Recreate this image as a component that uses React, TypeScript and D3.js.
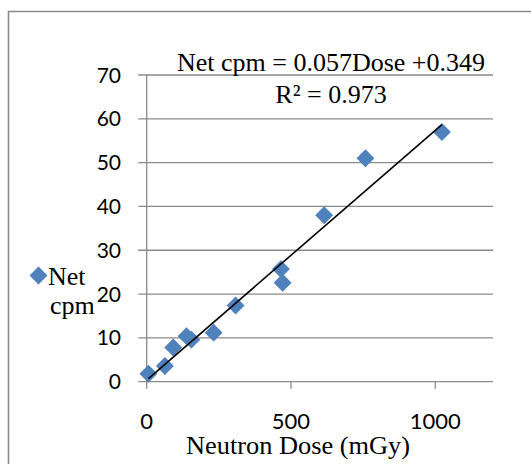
import React from 'react';
import * as d3 from 'd3';

// neutron dose (mGy) vs net counts per minute
const doses = [6, 63, 92, 138, 155, 232, 308, 465, 471, 615, 758, 1023];
const netCpm = [1.8, 3.6, 7.8, 10.4, 9.6, 11.2, 17.4, 25.7, 22.6, 38, 51, 57];

const yTicks = [0, 10, 20, 30, 40, 50, 60, 70];
const xTicks = [0, 500, 1000];

const slope = 0.057;
const intercept = 0.349;
const eqLabel = 'Net cpm = 0.057Dose +0.349';
const r2Label = 'R² = 0.973';
const xTitle = 'Neutron Dose (mGy)';
const seriesName = ['Net', 'cpm'];

const W = 531, H = 464;
const plot = { left: 146.7, right: 493, top: 75, bottom: 381.7 };
const gridColor = '#8a8a8a';
const blue = '#4F81BD';
const serif = '"Liberation Serif", "Times New Roman", serif';
const sans = 'Lato, "Liberation Sans", sans-serif';

const App = () => {
    const x = d3.scaleLinear().domain([0, 1200]).range([plot.left, plot.right]);
    const y = d3.scaleLinear().domain([0, 70]).range([plot.bottom, plot.top]);

    const pts = doses.map((d, i) => ({ dose: d, cpm: netCpm[i] }));
    const xs = d3.extent(doses) as [number, number];
    const trend = d3.line<number>()
        .x(d => x(d))
        .y(d => y(slope * d + intercept));

    const diamond = d3.symbol().type(d3.symbolDiamond2).size(205)();

    return (
        <svg width={W} height={H} style={{ position: 'absolute', left: 0, top: 0, background: '#fff' }}>
            {/* chart frame, runs off the right and bottom */}
            <path d={`M8.5,${H + 5} L8.5,11.5 L${W + 5},11.5`} fill="none" stroke={gridColor} strokeWidth={1.6} />

            {/* horizontal gridlines with their tick stubs */}
            {yTicks.map(t => (
                <g key={t}>
                    <line x1={plot.left - 8.5} x2={plot.right} y1={y(t)} y2={y(t)} stroke={gridColor} strokeWidth={1.3} />
                    <text x={121} y={y(t)} dy="0.36em" textAnchor="end" fontFamily={sans} fontSize={21} fill="#000">{t}</text>
                </g>
            ))}
            <line x1={plot.left} x2={plot.left} y1={plot.top} y2={plot.bottom} stroke={gridColor} strokeWidth={1.3} />

            {xTicks.map(t => (
                <g key={t}>
                    <line x1={x(t)} x2={x(t)} y1={plot.bottom} y2={plot.bottom + 7} stroke={gridColor} strokeWidth={1.3} />
                    <text x={x(t)} y={429} textAnchor="middle" fontFamily={sans} fontSize={22} fill="#000">{t}</text>
                </g>
            ))}

            {pts.map((p, i) => (
                <path key={i} d={diamond!} transform={`translate(${x(p.dose)},${y(p.cpm)})`} fill={blue} />
            ))}

            <path d={trend(xs)!} fill="none" stroke="#000" strokeWidth={1.6} />

            <text x={331} y={71} textAnchor="middle" fontFamily={serif} fontSize={26} fill="#000">{eqLabel}</text>
            <text x={331} y={103} textAnchor="middle" fontFamily={serif} fontSize={26} fill="#000">{r2Label}</text>

            <text x={298} y={454} textAnchor="middle" fontFamily={serif} fontSize={25} textLength={224} lengthAdjust="spacingAndGlyphs" fill="#000">{xTitle}</text>

            {/* legend */}
            <path d={diamond!} transform="translate(38.5,275.5)" fill={blue} />
            <text x={48} y={285} fontFamily={serif} fontSize={26} fill="#000">{seriesName[0]}</text>
            <text x={50} y={314} fontFamily={serif} fontSize={26} fill="#000">{seriesName[1]}</text>
        </svg>
    );
};

export default App;
